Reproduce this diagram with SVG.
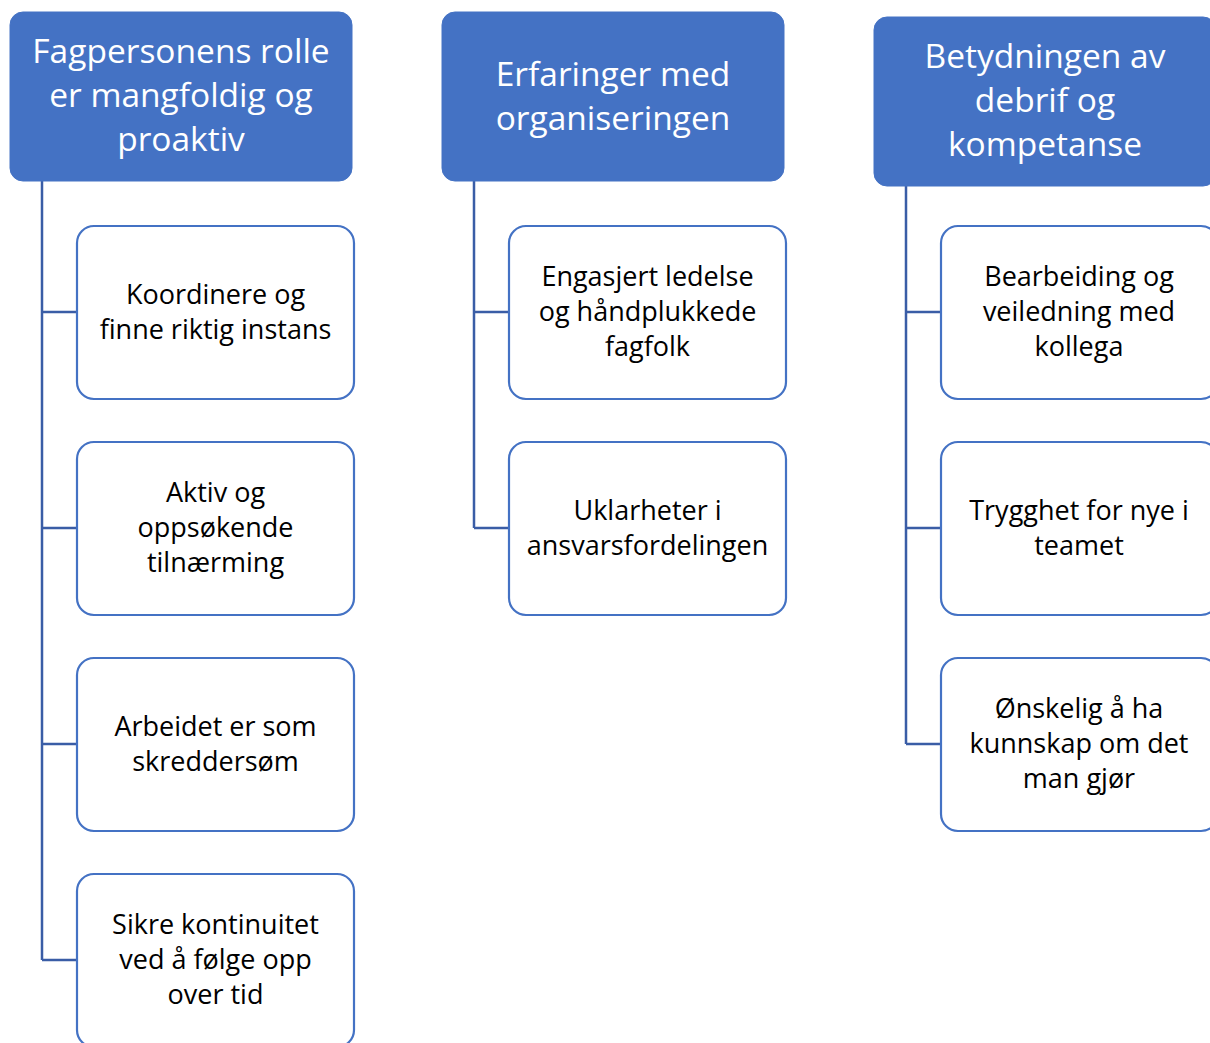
<svg xmlns="http://www.w3.org/2000/svg" width="1210" height="1043" viewBox="0 0 1210 1043">
<style>
.hdr{fill:#4472C4;stroke:#4472C4;stroke-width:1}
.box{fill:#fff;stroke:#4472C4;stroke-width:2.2}
.ht{font-family:"Open Sans","Liberation Sans",sans-serif;font-size:33.5px;fill:#fff;text-anchor:middle}
.bt{font-family:"Open Sans","Liberation Sans",sans-serif;font-size:27px;fill:#000;text-anchor:middle}
.con{fill:none;stroke:#3A5DA6;stroke-width:2.5}
</style>
<rect width="1210" height="1043" fill="#fff"/>
<g id="connectors">
<path class="con" d="M42 181V960M42 312H77M42 528H77M42 744H77M42 960H77"/>
<path class="con" d="M474 181V528M474 312H509M474 528H509"/>
<path class="con" d="M906 186V744M906 312H941M906 528H941M906 744H941"/>
</g>
<g id="h1"><rect class="hdr" x="10" y="12" width="342" height="169" rx="13"/>
<text class="ht" x="181" y="63">Fagpersonens rolle</text><text class="ht" x="181" y="107">er mangfoldig og</text><text class="ht" x="181" y="151">proaktiv</text></g>
<g id="h2"><rect class="hdr" x="442" y="12" width="342" height="169" rx="13"/>
<text class="ht" x="613" y="86">Erfaringer med</text><text class="ht" x="613" y="130">organiseringen</text></g>
<g id="h3"><rect class="hdr" x="874" y="17" width="342" height="169" rx="13"/>
<text class="ht" x="1045" y="68">Betydningen av</text><text class="ht" x="1045" y="112">debrif og</text><text class="ht" x="1045" y="156">kompetanse</text></g>
<g id="c1a"><rect class="box" x="77" y="226" width="277" height="173" rx="17"/>
<text class="bt" x="215.5" y="304">Koordinere og</text><text class="bt" x="215.5" y="339">finne riktig instans</text></g>
<g id="c1b"><rect class="box" x="77" y="442" width="277" height="173" rx="17"/>
<text class="bt" x="215.5" y="502">Aktiv og</text><text class="bt" x="215.5" y="537">oppsøkende</text><text class="bt" x="215.5" y="572">tilnærming</text></g>
<g id="c1c"><rect class="box" x="77" y="658" width="277" height="173" rx="17"/>
<text class="bt" x="215.5" y="736">Arbeidet er som</text><text class="bt" x="215.5" y="771">skreddersøm</text></g>
<g id="c1d"><rect class="box" x="77" y="874" width="277" height="173" rx="17"/>
<text class="bt" x="215.5" y="934">Sikre kontinuitet</text><text class="bt" x="215.5" y="969">ved å følge opp</text><text class="bt" x="215.5" y="1004">over tid</text></g>
<g id="c2a"><rect class="box" x="509" y="226" width="277" height="173" rx="17"/>
<text class="bt" x="647.5" y="286">Engasjert ledelse</text><text class="bt" x="647.5" y="321">og håndplukkede</text><text class="bt" x="647.5" y="356">fagfolk</text></g>
<g id="c2b"><rect class="box" x="509" y="442" width="277" height="173" rx="17"/>
<text class="bt" x="647.5" y="520">Uklarheter i</text><text class="bt" x="647.5" y="555">ansvarsfordelingen</text></g>
<g id="c3a"><rect class="box" x="941" y="226" width="277" height="173" rx="17"/>
<text class="bt" x="1079" y="286">Bearbeiding og</text><text class="bt" x="1079" y="321">veiledning med</text><text class="bt" x="1079" y="356">kollega</text></g>
<g id="c3b"><rect class="box" x="941" y="442" width="277" height="173" rx="17"/>
<text class="bt" x="1079" y="520">Trygghet for nye i</text><text class="bt" x="1079" y="555">teamet</text></g>
<g id="c3c"><rect class="box" x="941" y="658" width="277" height="173" rx="17"/>
<text class="bt" x="1079" y="718">Ønskelig å ha</text><text class="bt" x="1079" y="753">kunnskap om det</text><text class="bt" x="1079" y="788">man gjør</text></g>
</svg>
